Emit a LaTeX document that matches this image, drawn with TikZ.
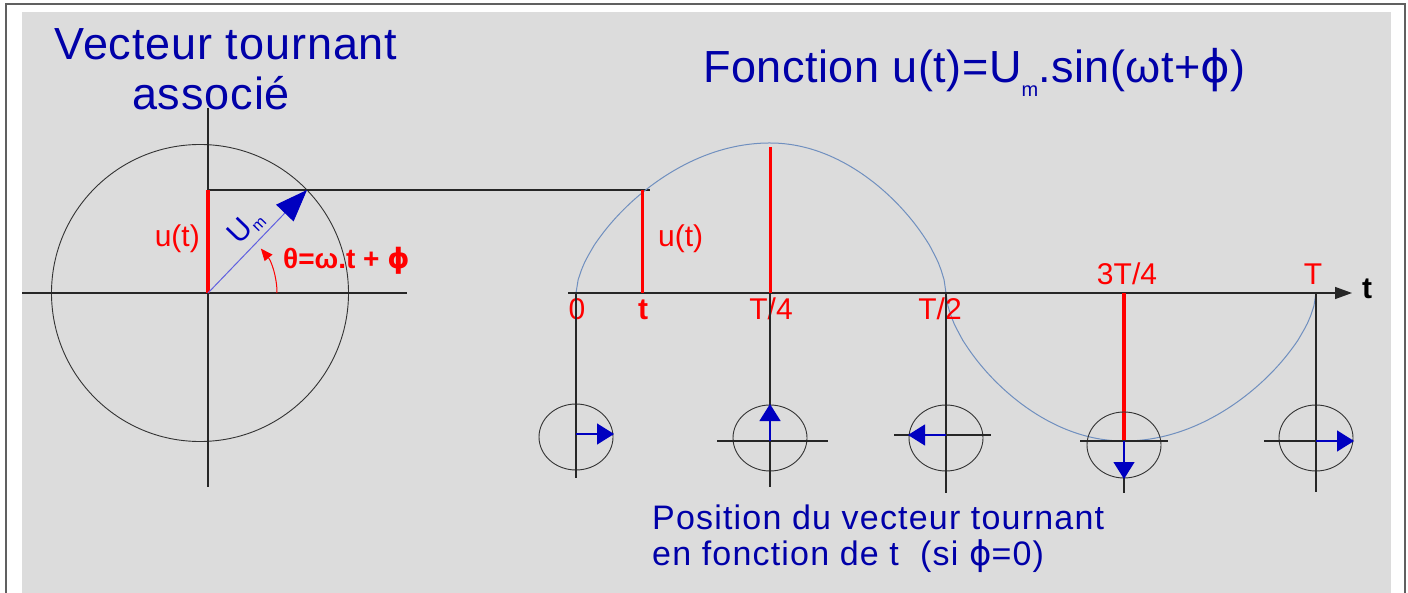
\documentclass[tikz,border=0pt]{standalone}
\usepackage{fontspec}
\setmainfont{Liberation Sans}
\newfontfamily\symfont{DejaVu Sans}
\usetikzlibrary{arrows.meta}
\definecolor{bg}{HTML}{DCDCDC}
\definecolor{tblue}{HTML}{0000A8}
\definecolor{vblue}{HTML}{0000C0}
\definecolor{lblue}{HTML}{6060E0}
\definecolor{cblue}{HTML}{6F8FBF}
\definecolor{ared}{HTML}{FF0000}
\definecolor{frame}{HTML}{606060}
\newcommand{\phisym}{{\symfont ϕ}}
\begin{document}
\begin{tikzpicture}[x=1pt,y=-1pt,
  blk/.style={draw=black!85, line width=1.3pt},
  thinline/.style={draw=black!80, line width=0.9pt},
  redbar/.style={draw=ared, line width=3pt},
  smallvec/.style={draw=vblue, line width=1.3pt, -{Triangle[length=17pt,width=21pt,color=vblue,fill=vblue]}},
  ttl/.style={text=tblue, font=\fontsize{45}{50}\selectfont\addfontfeature{LetterSpace=2}, inner sep=0pt},
  rlab/.style={text=ared, font=\fontsize{30}{34}\selectfont, inner sep=0pt},
  btxt/.style={text=tblue, font=\fontsize{34}{36}\selectfont\addfontfeature{LetterSpace=3.5}, inner sep=0pt}]
% background and frame
\useasboundingbox (0,0) rectangle (1408,593);
\fill[white] (0,0) rectangle (1408,593);
\fill[bg] (22,12) rectangle (1391,593);
\draw[frame, line width=2pt] (6,593) -- (6,4.5) -- (1405,4.5) -- (1405,593);

% titles
\node[ttl, anchor=base] (t1) at (226,60) {Vecteur tournant};
\node[ttl, anchor=base] (t2) at (211,110) {associé};
\node[ttl, font=\fontsize{45}{50}\selectfont\addfontfeature{LetterSpace=1.2}, anchor=base west] (t3) at (703,83) {Fonction u(t)=U\raisebox{-14pt}{\fontsize{20}{20}\selectfont m}.sin(ωt+\phisym)};

% left rotating vector
\coordinate (O) at (208,293);
\coordinate (P) at (307,190);
\coordinate (Py) at (208,190);
\coordinate (Lx1) at (22,293);
\coordinate (Lx2) at (407,293);
\coordinate (Ly1) at (208,108);
\coordinate (Ly2) at (208,487);
\coordinate (Cc) at (200,293);
\coordinate (Ct) at (650,190);
\draw[thinline] (Cc) circle[radius=148.5];
\draw[blk] (Lx1) -- (Lx2);
\draw[blk] (Ly1) -- (Ly2);
\draw[blk] (Py) -- (Ct);
\draw[redbar, line width=4pt] (O) -- (Py);
\draw[draw=lblue, line width=1pt, -{Triangle[length=32pt,width=24pt,color=vblue,fill=vblue]}] (O) -- (P);
\draw[ared, line width=1pt, -{Triangle[length=12pt,width=10pt]}] (277,293) arc[start angle=0, end angle=-40, radius=69];
\node[rlab, anchor=base east] (lu) at (200,247) {u(t)};
\node[text=vblue, font=\fontsize{30}{34}\selectfont, inner sep=0pt, rotate=46] (um) at (246,227) {U\raisebox{-5pt}{\fontsize{16}{16}\selectfont m}};
\node[rlab, font=\fontsize{28}{32}\selectfont\bfseries, anchor=base west] (th) at (283,269) {θ=ω.t + \phisym};

% time axis and sine
\coordinate (A0) at (568,293);
\coordinate (Aend) at (1352,293);
\draw[cblue, line width=1pt] (576,293)
  -- plot[domain=1:90, samples=60] ({576+\x/90*194},{293-150*exp(0.6*ln(sin(\x)))})
  -- plot[domain=0:89, samples=60] ({770+\x/90*176},{293-150*exp(0.6*ln(cos(\x)))})
  -- (946,293)
  -- plot[domain=1:90, samples=60] ({946+\x/90*178},{293+148*exp(0.6*ln(sin(\x)))})
  -- plot[domain=0:89, samples=60] ({1124+\x/90*192},{293+148*exp(0.6*ln(cos(\x)))})
  -- (1316,293);
\draw[blk, -{Triangle[length=17pt,width=12pt]}] (A0) -- (Aend);
\node[font=\fontsize{30}{34}\selectfont\bfseries, inner sep=0pt, anchor=base west] (tl) at (1362,299) {t};

% red value lines
\draw[redbar] (642,190) -- (642,293);
\draw[redbar] (770,147) -- (770,293);
\draw[redbar, line width=4pt] (1124,293) -- (1124,441);
\node[rlab, anchor=base west] (ru) at (658,247) {u(t)};

% tick labels
\node[rlab, anchor=base] (l0) at (577,320) {0};
\node[rlab, font=\fontsize{30}{34}\selectfont\bfseries, anchor=base] (lt) at (643,320) {t};
\node[rlab, anchor=base] (l1) at (771,320) {T/4};
\node[rlab, anchor=base] (l2) at (940,320) {T/2};
\node[rlab, anchor=base] (l3) at (1127,285) {3T/4};
\node[rlab, anchor=base] (l4) at (1313,285) {T};

% small rotating vectors
\coordinate (c1) at (576,437);
\coordinate (c2) at (770,438);
\coordinate (c3) at (946,438);
\coordinate (c4) at (1124,445);
\coordinate (c5) at (1316,438);
\foreach \c in {c1,c2,c3,c4,c5}
  \draw[thinline] (\c) ellipse[x radius=37, y radius=33];
\draw[blk] (576,293) -- (576,478);
\draw[blk] (770,293) -- (770,487);
\draw[blk] (946,293) -- (946,493);
\draw[blk] (1124,441) -- (1124,493);
\draw[blk] (1316,293) -- (1316,492);
\draw[blk] (717,441) -- (828,441);
\draw[blk] (894,435) -- (991,435);
\draw[blk] (1080,441) -- (1168,441);
\draw[blk] (1264,441) -- (1353,441);
\draw[smallvec] (576,434) -- (614,434);
\draw[smallvec] (770,441) -- (770,404);
\draw[smallvec] (946,435) -- (908,435);
\draw[smallvec] (1124,441) -- (1124,479);
\draw[smallvec] (1316,441) -- (1354,441);

% bottom caption
\node[btxt, anchor=base west] (b1) at (652,529) {Position du vecteur tournant};
\node[btxt, anchor=base west] (b2) at (652,565) {en fonction de t \ (si \phisym=0)};
\end{tikzpicture}
\end{document}
